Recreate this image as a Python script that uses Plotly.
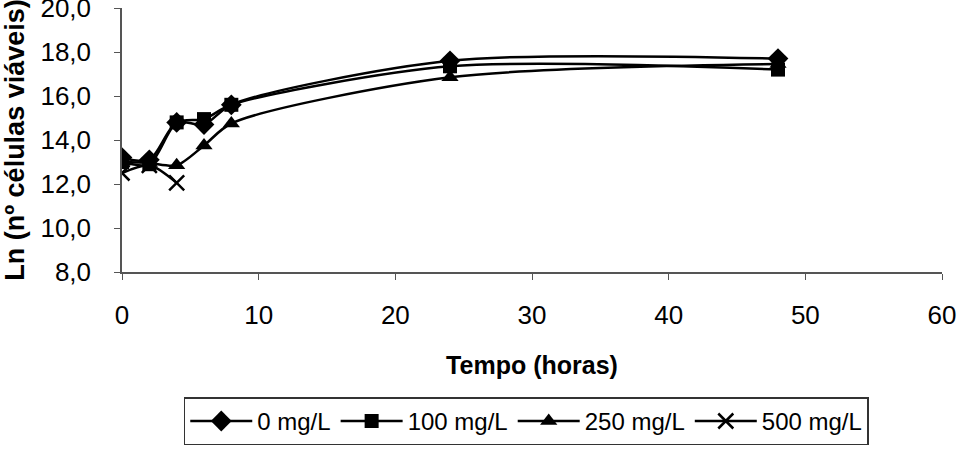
import plotly.graph_objects as go

tempo_0 = [0, 2, 4, 6, 8, 24, 48]
ln_0 = [13.2, 13.1, 14.8, 14.7, 15.6, 17.6, 17.7]

tempo_100 = [0, 2, 4, 6, 8, 24, 48]
ln_100 = [13.0, 12.9, 14.8, 14.95, 15.6, 17.35, 17.2]

tempo_250 = [0, 2, 4, 6, 8, 24, 48]
ln_250 = [13.0, 12.95, 12.85, 13.75, 14.75, 16.85, 17.45]

tempo_500 = [0, 2, 4]
ln_500 = [12.5, 12.85, 12.05]

series = [
    ("0 mg/L", tempo_0, ln_0, "diamond", 16),
    ("100 mg/L", tempo_100, ln_100, "square", 14),
    ("250 mg/L", tempo_250, ln_250, "triangle-up", 15),
    ("500 mg/L", tempo_500, ln_500, "x-thin", 15),
]

fig = go.Figure()
for name, x, y, sym, sz in series:
    marker = dict(symbol=sym, size=sz, color="black")
    if sym == "x-thin":
        marker["line"] = dict(width=2.5, color="black")
    fig.add_trace(go.Scatter(
        x=x, y=y, name=name, mode="lines+markers",
        line=dict(color="black", width=2.5, shape="spline", smoothing=0.8),
        marker=marker,
    ))

font_family = "Liberation Sans, Arial, sans-serif"
fig.update_layout(
    width=962, height=453,
    margin=dict(l=122, r=20, t=8, b=175),
    plot_bgcolor="white", paper_bgcolor="white",
    separators=",.",
    font=dict(family=font_family, size=26, color="black"),
    showlegend=True,
    legend=dict(
        orientation="h", x=0.493, xanchor="center", y=-0.475, yanchor="top",
        bordercolor="#333", borderwidth=1.5, font=dict(size=24),
        itemwidth=62, tracegroupgap=0,
    ),
    xaxis=dict(
        range=[0, 60], dtick=10, tick0=0, showgrid=False, zeroline=False,
        showline=True, linecolor="#555", linewidth=1.5, automargin=False,
        ticks="outside", ticklen=6, tickcolor="#555", ticklabelstandoff=13,
        ticklabeloverflow="allow",
        title=dict(text="<b>Tempo (horas)</b>", standoff=28, font=dict(size=25)),
    ),
    yaxis=dict(
        range=[8, 20], dtick=2, tick0=8, tickformat=".1f", showgrid=False, zeroline=False,
        showline=True, linecolor="#555", linewidth=1.5, automargin=False,
        ticks="outside", ticklen=6, tickcolor="#555", ticklabelstandoff=18,
        ticklabeloverflow="allow",
        title=dict(text="<b>Ln (nº células viáveis)</b>", standoff=14, font=dict(size=27)),
    ),
)

fig.write_html(
    "out.html",
    config={"displayModeBar": False},
    post_script="document.body.style.margin='0';document.body.style.overflow='hidden';",
)
